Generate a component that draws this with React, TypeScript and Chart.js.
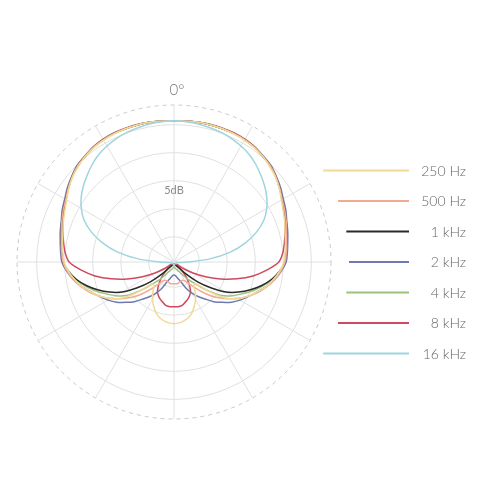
import React, { useEffect, useRef } from 'react';
import { Chart, registerables } from 'chart.js';

Chart.register(...registerables);

// Angles around the microphone (degrees, clockwise from the front)
const ANGLES = [
  0, 5, 10, 15, 20, 25, 30, 35, 40, 45, 50, 55, 60, 65, 70, 75, 80, 85,
  90, 95, 100, 105, 110, 115, 120, 125, 130, 135, 140, 145, 150, 155, 160, 165, 170, 175,
  180, 185, 190, 195, 200, 205, 210, 215, 220, 225, 230, 235, 240, 245, 250, 255, 260, 265,
  270, 275, 280, 285, 290, 295, 300, 305, 310, 315, 320, 325, 330, 335, 340, 345, 350, 355,
];

const SERIES_NAMES = ['250 Hz', '500 Hz', '1 kHz', '2 kHz', '4 kHz', '8 kHz', '16 kHz'];

// Response in dB at each angle
const HZ_250 = [
  0.7, 0.7, 0.8, 0.8, 0.8, 0.7, 0.6, 0.4, 0.1, -0.4, -0.9, -1.6, -2.4, -3.0, -3.5, -4.0, -4.3, -4.6,
  -4.9, -5.6, -6.5, -7.5, -8.8, -10.0, -11.5, -13.3, -16.3, -19.0, -19.0, -17.9, -16.8, -15.9, -15.0, -14.3, -13.9, -13.6,
  -13.5, -13.6, -13.9, -14.3, -15.0, -15.9, -16.8, -17.9, -19.0, -19.0, -16.3, -13.3, -11.5, -10.0, -8.8, -7.5, -6.5, -5.6,
  -4.9, -4.6, -4.3, -4.0, -3.5, -3.0, -2.4, -1.6, -0.9, -0.4, 0.1, 0.4, 0.6, 0.7, 0.8, 0.8, 0.8, 0.7,
];
const HZ_500 = [
  0.7, 0.7, 0.8, 0.8, 0.8, 0.8, 0.7, 0.5, 0.1, -0.2, -0.8, -1.5, -2.2, -2.7, -3.2, -3.7, -4.1, -4.4,
  -4.7, -5.4, -6.3, -7.4, -8.6, -10.0, -11.5, -13.1, -14.7, -16.5, -18.3, -19.7, -20.6, -20.9, -20.9, -20.8, -20.6, -20.6,
  -20.6, -20.6, -20.6, -20.8, -20.9, -20.9, -20.6, -19.7, -18.3, -16.5, -14.7, -13.1, -11.5, -10.0, -8.6, -7.4, -6.3, -5.4,
  -4.7, -4.4, -4.1, -3.7, -3.2, -2.7, -2.2, -1.5, -0.8, -0.2, 0.1, 0.5, 0.7, 0.8, 0.8, 0.8, 0.8, 0.7,
];
const KHZ_1 = [
  0.7, 0.7, 0.8, 0.8, 0.8, 0.8, 0.7, 0.5, 0.1, -0.2, -0.8, -1.5, -2.2, -2.7, -3.2, -3.7, -4.1, -4.5,
  -4.7, -5.6, -6.8, -8.3, -10.0, -11.8, -13.8, -16.5, -19.0, -21.5, -23.1, -23.6, -23.8, -24.0, -24.0, -24.1, -24.1, -24.1,
  -24.1, -24.1, -24.1, -24.1, -24.0, -24.0, -23.8, -23.6, -23.1, -21.5, -19.0, -16.5, -13.8, -11.8, -10.0, -8.3, -6.8, -5.6,
  -4.7, -4.5, -4.1, -3.7, -3.2, -2.7, -2.2, -1.5, -0.8, -0.2, 0.1, 0.5, 0.7, 0.8, 0.8, 0.8, 0.8, 0.7,
];
const KHZ_2 = [
  0.7, 0.7, 0.8, 0.8, 0.8, 0.8, 0.7, 0.5, 0.2, -0.1, -0.7, -1.3, -2.0, -2.5, -3.1, -3.5, -3.9, -4.2,
  -4.5, -5.3, -6.3, -7.5, -8.8, -9.9, -10.9, -12.0, -13.3, -14.5, -15.9, -17.0, -18.1, -19.3, -20.6, -21.3, -21.8, -22.1,
  -22.2, -22.1, -21.8, -21.3, -20.6, -19.3, -18.1, -17.0, -15.9, -14.5, -13.3, -12.0, -10.9, -9.9, -8.8, -7.5, -6.3, -5.3,
  -4.5, -4.2, -3.9, -3.5, -3.1, -2.5, -2.0, -1.3, -0.7, -0.1, 0.2, 0.5, 0.7, 0.8, 0.8, 0.8, 0.8, 0.7,
];
const KHZ_4 = [
  0.7, 0.7, 0.8, 0.8, 0.8, 0.8, 0.7, 0.5, 0.1, -0.2, -0.8, -1.5, -2.2, -2.7, -3.2, -3.7, -4.1, -4.4,
  -4.7, -5.6, -6.6, -8.1, -9.5, -11.1, -12.5, -14.1, -16.5, -18.8, -20.2, -21.5, -22.4, -22.7, -23.1, -23.2, -23.4, -23.6,
  -23.6, -23.6, -23.4, -23.2, -23.1, -22.7, -22.4, -21.5, -20.2, -18.8, -16.5, -14.1, -12.5, -11.1, -9.5, -8.1, -6.6, -5.6,
  -4.7, -4.4, -4.1, -3.7, -3.2, -2.7, -2.2, -1.5, -0.8, -0.2, 0.1, 0.5, 0.7, 0.8, 0.8, 0.8, 0.8, 0.7,
];
const KHZ_8 = [
  0.7, 0.7, 0.8, 0.9, 0.9, 0.9, 0.8, 0.6, 0.2, -0.2, -0.8, -1.5, -2.2, -2.9, -3.4, -4.0, -4.5, -5.0,
  -5.8, -7.9, -10.2, -12.9, -15.6, -18.3, -20.6, -22.4, -23.8, -23.1, -21.3, -19.9, -18.6, -17.9, -17.4, -17.0, -16.6, -16.5,
  -16.5, -16.5, -16.6, -17.0, -17.4, -17.9, -18.6, -19.9, -21.3, -23.1, -23.8, -22.4, -20.6, -18.3, -15.6, -12.9, -10.2, -7.9,
  -5.8, -5.0, -4.5, -4.0, -3.4, -2.9, -2.2, -1.5, -0.8, -0.2, 0.2, 0.6, 0.8, 0.9, 0.9, 0.9, 0.8, 0.7,
];
const KHZ_16 = [
  0.7, 0.6, 0.5, 0.3, 0.1, -0.2, -0.6, -1.1, -1.8, -2.6, -3.4, -4.3, -5.4, -6.8, -8.8, -11.3, -14.3, -18.1,
  -22.0, -23.6, -24.1, -24.1, -24.1, -24.1, -24.1, -24.1, -24.1, -24.1, -24.1, -24.1, -24.1, -24.1, -24.1, -24.1, -24.1, -24.1,
  -24.1, -24.1, -24.1, -24.1, -24.1, -24.1, -24.1, -24.1, -24.1, -24.1, -24.1, -24.1, -24.1, -24.1, -24.1, -24.1, -24.1, -23.6,
  -22.0, -18.1, -14.3, -11.3, -8.8, -6.8, -5.4, -4.3, -3.4, -2.6, -1.8, -1.1, -0.6, -0.2, 0.1, 0.3, 0.5, 0.6,
];

const SERIES_VALUES = [HZ_250, HZ_500, KHZ_1, KHZ_2, KHZ_4, KHZ_8, KHZ_16];

// Radial scale (dB)
const SCALE_MIN = -24.5;
const SCALE_MAX = 3.5;
const RING_TICKS = [-20, -15, -10, -5, 0];
const STEP_LABEL_VALUE = -11.8;
const STEP_LABEL = '5dB';
const FRONT_LABEL = '0°';

const COLORS = ['#f0da95', '#f2aa90', '#2a2a2a', '#6e79b0', '#9cc27e', '#cf4a5e', '#9fd5de'];

const overlayPlugin = {
  id: 'polarOverlay',
  afterDraw(chart: any) {
    const s = chart.scales.r;
    const ctx = chart.ctx;
    const cx = s.xCenter;
    const cy = s.yCenter;
    const R = s.drawingArea;
    ctx.save();
    // front angle label
    const p = s.getPointPosition(0, R + 15);
    ctx.fillStyle = '#777';
    ctx.font = '300 15px Lato';
    ctx.textAlign = 'center';
    ctx.textBaseline = 'middle';
    ctx.fillText(FRONT_LABEL, p.x + 3, p.y);
    // legend following the outer ring
    const n = chart.data.datasets.length;
    chart.data.datasets.forEach((ds: any, i: number) => {
      const y = cy + (i - (n - 1) / 2) * 30.5;
      const dy = y - cy;
      const rr = R + 18;
      const x0 = cx + Math.sqrt(Math.max(rr * rr - dy * dy, 0));
      const x1 = cx + 235;
      ctx.strokeStyle = ds.borderColor;
      ctx.lineWidth = 1.8;
      ctx.setLineDash([]);
      ctx.beginPath();
      ctx.moveTo(x0, y);
      ctx.lineTo(x1, y);
      ctx.stroke();
      ctx.fillStyle = '#666';
      ctx.font = '300 14px Lato';
      ctx.textAlign = 'right';
      ctx.textBaseline = 'middle';
      ctx.fillText(ds.label, cx + 292, y + 0.5);
    });
    ctx.restore();
  },
};

export default function App() {
  const ref = useRef<HTMLCanvasElement>(null);
  useEffect(() => {
    if (!ref.current) return;
    const chart = new Chart(ref.current, {
      type: 'radar',
      data: {
        labels: ANGLES.map((a) => a + '°'),
        datasets: SERIES_NAMES.map((name, i) => ({
          label: name,
          data: SERIES_VALUES[i],
          borderColor: COLORS[i],
          backgroundColor: COLORS[i],
          borderWidth: 1.5,
          pointRadius: 0,
          pointHoverRadius: 0,
          fill: false,
          tension: 0.3,
          order: i === 6 ? -1 : i,
        })),
      },
      options: {
        animation: false,
        responsive: true,
        maintainAspectRatio: false,
        layout: { padding: { left: 9, top: 97, right: 161, bottom: 73 } },
        plugins: { legend: { display: false }, tooltip: { enabled: false } },
        scales: {
          r: {
            min: SCALE_MIN,
            max: SCALE_MAX,
            afterBuildTicks: (scale: any) => {
              scale.ticks = [...RING_TICKS, STEP_LABEL_VALUE, SCALE_MAX].map((value) => ({ value }));
            },
            ticks: {
              display: true,
              showLabelBackdrop: false,
              backdropPadding: 2,
              color: '#8a8a8a',
              font: { size: 11, family: 'Lato' },
              callback: (v: any) => (v === STEP_LABEL_VALUE ? STEP_LABEL : ''),
            },
            grid: {
              circular: true,
              lineWidth: 1,
              color: (c: any) => {
                const v = c.tick && c.tick.value;
                if (v === STEP_LABEL_VALUE) return 'rgba(0,0,0,0)';
                if (v === SCALE_MAX) return '#c9c9c9';
                return '#e0e0e0';
              },
            },
            border: {
              dash: (c: any) => (c.tick && c.tick.value === SCALE_MAX ? [4, 4] : []),
            },
            angleLines: {
              display: true,
              color: '#e0e0e0',
              lineWidth: (c: any) => (c.index % 6 === 0 ? 1 : 0),
            },
            pointLabels: { display: false },
          },
        },
      } as any,
      plugins: [overlayPlugin],
    });
    return () => chart.destroy();
  }, []);
  return (
    <div style={{ position: 'fixed', left: 0, top: 0, width: 500, height: 500, background: '#fff' }}>
      <canvas ref={ref} style={{ display: 'block' }} />
    </div>
  );
}
